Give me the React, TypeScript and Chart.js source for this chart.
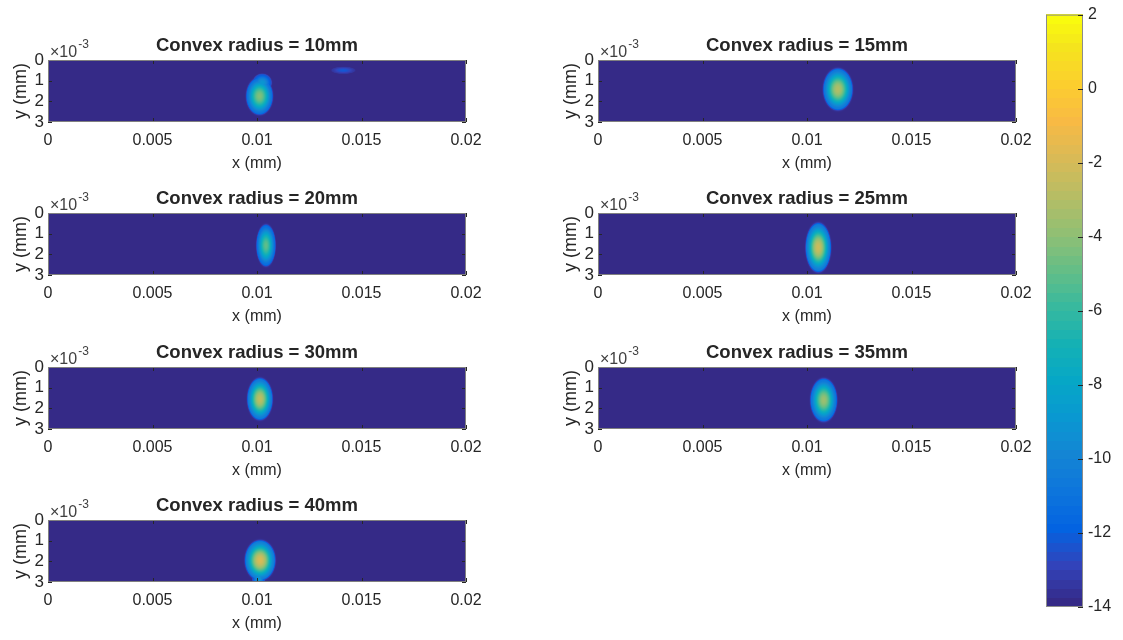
import React, { useEffect, useRef } from 'react';
import { Chart, registerables } from 'chart.js';

Chart.register(...registerables);

const FONT = "'Liberation Sans', Arial, Helvetica, sans-serif";
const TEXT = '#262626';

// ---------- data ----------
const panelTitles = [
  'Convex radius = 10mm',
  'Convex radius = 15mm',
  'Convex radius = 20mm',
  'Convex radius = 25mm',
  'Convex radius = 30mm',
  'Convex radius = 35mm',
  'Convex radius = 40mm',
];
const xRange = [0, 0.02];
const yRange = [0, 3];
const xTickValues = [0, 0.005, 0.01, 0.015, 0.02];
const xTickLabels = ['0', '0.005', '0.01', '0.015', '0.02'];
const yTickValues = [0, 1, 2, 3];
const yTickLabels = ['0', '1', '2', '3'];
const colorRange = [-14, 2];
const colorTickValues = [-14, -12, -10, -8, -6, -4, -2, 0, 2];
const colorTickLabels = ['-14', '-12', '-10', '-8', '-6', '-4', '-2', '0', '2'];
const backgroundValue = -14;

// hot spots (x in mm, y in units of 1e-3 mm)
const blobPanel = [0, 0, 0, 1, 2, 3, 4, 5, 6, 6];
const blobX = [0.01012, 0.01025, 0.01413, 0.01148, 0.01043, 0.01054, 0.01014, 0.0108, 0.01015, 0.01008];
const blobY = [1.75, 1.1, 0.5, 1.42, 1.57, 1.67, 1.55, 1.6, 1.95, 2.85];
const blobHalfW = [0.00058, 0.00042, 0.00052, 0.00064, 0.00042, 0.00055, 0.00055, 0.00058, 0.00066, 0.00028];
const blobHalfH = [0.82, 0.4, 0.16, 0.92, 0.92, 1.08, 0.92, 0.95, 0.88, 0.4];
const blobPeak = [-4.2, -9.0, -12.3, -3.0, -5.0, -2.2, -2.6, -3.6, -1.8, -9.0];

// parula colormap (entries 0,4,...,60,63 of the 64-colour table)
const parulaIndex = [0, 4, 8, 12, 16, 20, 24, 28, 32, 36, 40, 44, 48, 52, 56, 60, 63];
const parulaR = [53, 50, 3, 13, 20, 9, 6, 21, 56, 101, 146, 183, 217, 248, 252, 245, 249];
const parulaG = [42, 67, 99, 117, 133, 152, 167, 177, 185, 190, 191, 189, 186, 186, 206, 228, 251];
const parulaB = [135, 186, 225, 220, 212, 209, 198, 180, 158, 134, 115, 100, 86, 68, 46, 29, 14];

// ---------- layout ----------
const panelLeft = [48, 598, 48, 598, 48, 598, 48];
const panelTop = [60, 60, 213, 213, 367, 367, 520];
const plotW = 418;
const plotH = 62;
const padTop = 35;
const axisW = 48;
const axisH = 56;
const padRight = 30;

function parula(t: number): [number, number, number] {
  const u = Math.min(1, Math.max(0, t)) * 63;
  for (let k = 1; k < parulaIndex.length; k++) {
    if (u <= parulaIndex[k]) {
      const f = (u - parulaIndex[k - 1]) / (parulaIndex[k] - parulaIndex[k - 1]);
      return [
        parulaR[k - 1] + (parulaR[k] - parulaR[k - 1]) * f,
        parulaG[k - 1] + (parulaG[k] - parulaG[k - 1]) * f,
        parulaB[k - 1] + (parulaB[k] - parulaB[k - 1]) * f,
      ];
    }
  }
  return [parulaR[16], parulaG[16], parulaB[16]];
}

function blobValue(b: number, x: number, y: number): number {
  const dx = (x - blobX[b]) / blobHalfW[b];
  const dy = (y - blobY[b]) / blobHalfH[b];
  const d = Math.sqrt(dx * dx + dy * dy);
  let p: number;
  if (d < 1) {
    const q = 1 - d * d;
    p = 0.3 + 0.7 * Math.pow(q, 1.5);
  } else {
    p = 0.3 * Math.exp(-Math.pow((d - 1) / 0.1, 2));
  }
  return backgroundValue + (blobPeak[b] - backgroundValue) * p;
}

function panelPlugin(p: number) {
  const ids = blobPanel.map((q, i) => (q === p ? i : -1)).filter((i) => i >= 0);
  return {
    id: 'heat' + p,
    beforeDatasetsDraw(chart: any) {
      const { ctx, chartArea: a, scales } = chart;
      const xs = scales.x;
      const ys = scales.y;
      const dpr = chart.currentDevicePixelRatio || 1;
      const x0 = Math.round(a.left * dpr);
      const y0 = Math.round(a.top * dpr);
      const w = Math.round(a.right * dpr) - x0;
      const h = Math.round(a.bottom * dpr) - y0;
      const img = ctx.createImageData(w, h);
      const xv: number[] = [];
      for (let i = 0; i < w; i++) xv.push(xs.getValueForPixel((x0 + i + 0.5) / dpr));
      for (let j = 0; j < h; j++) {
        const y = ys.getValueForPixel((y0 + j + 0.5) / dpr);
        for (let i = 0; i < w; i++) {
          let v = backgroundValue;
          for (const b of ids) v = Math.max(v, blobValue(b, xv[i], y));
          const c = parula((v - colorRange[0]) / (colorRange[1] - colorRange[0]));
          const o = (j * w + i) * 4;
          img.data[o] = c[0];
          img.data[o + 1] = c[1];
          img.data[o + 2] = c[2];
          img.data[o + 3] = 255;
        }
      }
      ctx.putImageData(img, x0, y0);
    },
    afterDatasetsDraw(chart: any) {
      const { ctx, chartArea: a, scales } = chart;
      const xs = scales.x;
      const ys = scales.y;
      ctx.save();
      ctx.strokeStyle = TEXT;
      ctx.lineWidth = 1;
      ctx.beginPath();
      for (const v of xTickValues) {
        const px = Math.round(xs.getPixelForValue(v)) + 0.5;
        ctx.moveTo(px, a.top);
        ctx.lineTo(px, a.top + 4);
        ctx.moveTo(px, a.bottom);
        ctx.lineTo(px, a.bottom - 4);
      }
      for (const v of yTickValues) {
        const py = Math.round(ys.getPixelForValue(v)) + 0.5;
        ctx.moveTo(a.left, py);
        ctx.lineTo(a.left + 4, py);
        ctx.moveTo(a.right, py);
        ctx.lineTo(a.right - 4, py);
      }
      ctx.stroke();
      ctx.strokeStyle = '#808080';
      ctx.strokeRect(a.left + 0.5, a.top + 0.5, a.right - a.left - 1, a.bottom - a.top - 1);

      ctx.fillStyle = TEXT;
      ctx.font = `bold 18.5px ${FONT}`;
      ctx.textAlign = 'center';
      ctx.textBaseline = 'alphabetic';
      ctx.fillText(panelTitles[p], (a.left + a.right) / 2, a.top - 9);

      ctx.fillStyle = '#404040';
      ctx.textAlign = 'left';
      ctx.font = `16px ${FONT}`;
      const base = '\u00d710';
      ctx.fillText(base, a.left + 2, a.top - 3);
      const bw = ctx.measureText(base).width;
      ctx.font = `12px ${FONT}`;
      ctx.fillText('-3', a.left + 2 + bw + 1, a.top - 12);
      ctx.restore();
    },
  };
}

function makePanel(canvas: HTMLCanvasElement, p: number) {
  const ids = blobPanel.map((q, i) => (q === p ? i : -1)).filter((i) => i >= 0);
  return new Chart(canvas, {
    type: 'scatter',
    data: {
      datasets: [
        {
          data: ids.map((b) => ({ x: blobX[b], y: blobY[b] })),
          pointRadius: 0,
          pointHoverRadius: 0,
        },
      ],
    },
    options: {
      animation: false,
      responsive: false,
      events: [],
      layout: { padding: { top: padTop, right: padRight, left: 0, bottom: 0 } },
      plugins: { legend: { display: false }, tooltip: { enabled: false } },
      scales: {
        x: {
          type: 'linear',
          min: xRange[0],
          max: xRange[1],
          afterBuildTicks: (s: any) => {
            s.ticks = xTickValues.map((v) => ({ value: v }));
          },
          afterFit: (s: any) => {
            s.height = axisH;
          },
          ticks: {
            autoSkip: false,
            maxRotation: 0,
            color: TEXT,
            padding: 9,
            font: { family: FONT, size: 16 },
            callback: (_v: any, i: number) => xTickLabels[i],
          },
          grid: { display: false, drawTicks: false },
          border: { display: false },
          title: {
            display: true,
            text: 'x (mm)',
            color: TEXT,
            font: { family: FONT, size: 16 },
            padding: { top: 0, bottom: 5 },
          },
        },
        y: {
          type: 'linear',
          reverse: true,
          min: yRange[0],
          max: yRange[1],
          afterBuildTicks: (s: any) => {
            s.ticks = yTickValues.map((v) => ({ value: v }));
          },
          afterFit: (s: any) => {
            s.width = axisW;
          },
          ticks: {
            autoSkip: false,
            color: TEXT,
            padding: 4,
            font: { family: FONT, size: 17 },
            callback: (_v: any, i: number) => yTickLabels[i],
          },
          grid: { display: false, drawTicks: false },
          border: { display: false },
          title: {
            display: true,
            text: 'y (mm)',
            color: TEXT,
            font: { family: FONT, size: 18 },
            padding: { top: 10, bottom: 0 },
          },
        },
      },
    },
    plugins: [panelPlugin(p)],
  } as any);
}

const colorbarPlugin = {
  id: 'colorbar',
  beforeDatasetsDraw(chart: any) {
    const { ctx, chartArea: a, scales } = chart;
    const ys = scales.y;
    const n = 64;
    const span = colorRange[1] - colorRange[0];
    ctx.save();
    for (let k = 0; k < n; k++) {
      const v0 = colorRange[0] + (span * k) / n;
      const v1 = colorRange[0] + (span * (k + 1)) / n;
      const p0 = ys.getPixelForValue(v0);
      const p1 = ys.getPixelForValue(v1);
      const c = parula(k / (n - 1));
      ctx.fillStyle = `rgb(${Math.round(c[0])},${Math.round(c[1])},${Math.round(c[2])})`;
      ctx.fillRect(a.left, Math.floor(p1), a.right - a.left, Math.ceil(p0) - Math.floor(p1));
    }
    ctx.strokeStyle = '#8c8c8c';
    ctx.lineWidth = 1;
    ctx.strokeRect(a.left + 0.5, a.top + 0.5, a.right - a.left - 1, a.bottom - a.top - 1);
    ctx.strokeStyle = TEXT;
    ctx.beginPath();
    for (const v of colorTickValues) {
      const py = Math.round(ys.getPixelForValue(v)) + 0.5;
      ctx.moveTo(a.right, py);
      ctx.lineTo(a.right - 5, py);
    }
    ctx.stroke();
    ctx.restore();
  },
};

function makeColorbar(canvas: HTMLCanvasElement) {
  return new Chart(canvas, {
    type: 'scatter',
    data: { datasets: [] },
    options: {
      animation: false,
      responsive: false,
      events: [],
      layout: { padding: { top: 12, bottom: 33, left: 46, right: 0 } },
      plugins: { legend: { display: false }, tooltip: { enabled: false } },
      scales: {
        x: { type: 'linear', display: false, min: 0, max: 1 },
        y: {
          type: 'linear',
          position: 'right',
          min: colorRange[0],
          max: colorRange[1],
          afterBuildTicks: (s: any) => {
            s.ticks = colorTickValues.map((v) => ({ value: v }));
          },
          afterFit: (s: any) => {
            s.width = 40;
          },
          ticks: {
            autoSkip: false,
            color: TEXT,
            padding: 5,
            font: { family: FONT, size: 16 },
            callback: (_v: any, i: number) => colorTickLabels[i],
          },
          grid: { display: false, drawTicks: false },
          border: { display: false },
        },
      },
    },
    plugins: [colorbarPlugin],
  } as any);
}

export default function App() {
  const panelRefs = useRef<(HTMLCanvasElement | null)[]>([]);
  const barRef = useRef<HTMLCanvasElement | null>(null);

  useEffect(() => {
    const charts: Chart[] = [];
    panelTitles.forEach((_t, p) => {
      const c = panelRefs.current[p];
      if (c) charts.push(makePanel(c, p));
    });
    if (barRef.current) charts.push(makeColorbar(barRef.current));
    return () => charts.forEach((c) => c.destroy());
  }, []);

  const cw = axisW + plotW + padRight;
  const ch = padTop + plotH + axisH;

  return (
    <div style={{ position: 'fixed', left: 0, top: 0, width: 1123, height: 640, background: '#ffffff', overflow: 'hidden' }}>
      {panelTitles.map((t, p) => (
        <canvas
          key={t}
          ref={(el) => {
            panelRefs.current[p] = el;
          }}
          width={cw}
          height={ch}
          style={{
            position: 'absolute',
            left: panelLeft[p] - axisW,
            top: panelTop[p] - padTop,
            width: cw,
            height: ch,
          }}
        />
      ))}
      <canvas
        ref={barRef}
        width={123}
        height={640}
        style={{ position: 'absolute', left: 1000, top: 0, width: 123, height: 640 }}
      />
    </div>
  );
}
